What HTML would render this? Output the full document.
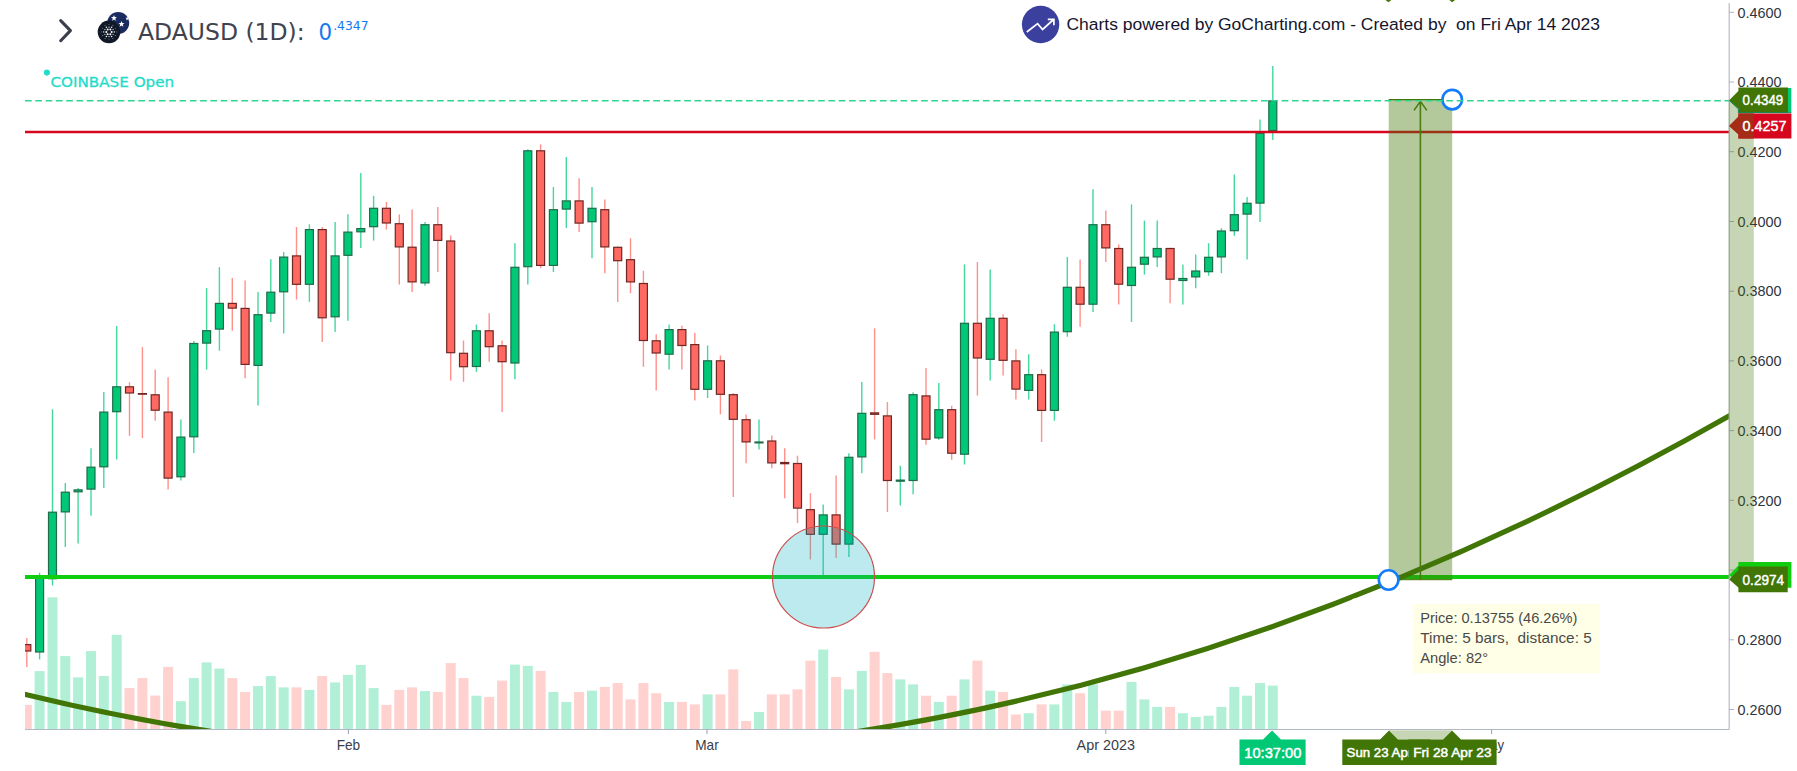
<!DOCTYPE html><html><head><meta charset="utf-8"><title>ADAUSD (1D) - GoCharting</title>
<style>html,body{margin:0;padding:0;background:#fff;overflow:hidden}svg{display:block}text{font-family:"Liberation Sans","DejaVu Sans",sans-serif}.v{font-family:"DejaVu Sans","Liberation Sans",sans-serif}</style></head><body>
<svg width="1797" height="771" viewBox="0 0 1797 771">
<rect width="1797" height="771" fill="#fff"/>
<defs><clipPath id="plot"><rect x="25" y="0" width="1704" height="729"/></clipPath></defs>
<g clip-path="url(#plot)">
<g>
<rect x="21.8" y="704.9" width="10" height="24.1" fill="#ffd1cf"/>
<rect x="34.6" y="671.1" width="10" height="57.9" fill="#b1efd6"/>
<rect x="47.5" y="597.3" width="10" height="131.7" fill="#b1efd6"/>
<rect x="60.3" y="656.1" width="10" height="72.9" fill="#b1efd6"/>
<rect x="73.1" y="677.4" width="10" height="51.6" fill="#b1efd6"/>
<rect x="86.0" y="651.1" width="10" height="77.9" fill="#b1efd6"/>
<rect x="98.8" y="676.1" width="10" height="52.9" fill="#b1efd6"/>
<rect x="111.7" y="634.8" width="10" height="94.2" fill="#b1efd6"/>
<rect x="124.5" y="688.1" width="10" height="40.9" fill="#ffd1cf"/>
<rect x="137.4" y="678.1" width="10" height="50.9" fill="#ffd1cf"/>
<rect x="150.2" y="695.6" width="10" height="33.4" fill="#ffd1cf"/>
<rect x="163.1" y="666.9" width="10" height="62.1" fill="#ffd1cf"/>
<rect x="175.9" y="701.2" width="10" height="27.8" fill="#b1efd6"/>
<rect x="188.8" y="678.1" width="10" height="50.9" fill="#b1efd6"/>
<rect x="201.6" y="662.4" width="10" height="66.6" fill="#b1efd6"/>
<rect x="214.4" y="668.6" width="10" height="60.4" fill="#b1efd6"/>
<rect x="227.3" y="678.1" width="10" height="50.9" fill="#ffd1cf"/>
<rect x="240.1" y="691.9" width="10" height="37.1" fill="#ffd1cf"/>
<rect x="253.0" y="686.1" width="10" height="42.9" fill="#b1efd6"/>
<rect x="265.8" y="676.1" width="10" height="52.9" fill="#b1efd6"/>
<rect x="278.7" y="687.4" width="10" height="41.6" fill="#b1efd6"/>
<rect x="291.5" y="687.4" width="10" height="41.6" fill="#ffd1cf"/>
<rect x="304.4" y="689.9" width="10" height="39.1" fill="#b1efd6"/>
<rect x="317.2" y="676.1" width="10" height="52.9" fill="#ffd1cf"/>
<rect x="330.1" y="682.4" width="10" height="46.6" fill="#b1efd6"/>
<rect x="342.9" y="674.9" width="10" height="54.1" fill="#b1efd6"/>
<rect x="355.8" y="664.9" width="10" height="64.1" fill="#b1efd6"/>
<rect x="368.6" y="688.1" width="10" height="40.9" fill="#b1efd6"/>
<rect x="381.4" y="704.9" width="10" height="24.1" fill="#ffd1cf"/>
<rect x="394.3" y="689.9" width="10" height="39.1" fill="#ffd1cf"/>
<rect x="407.1" y="687.4" width="10" height="41.6" fill="#ffd1cf"/>
<rect x="420.0" y="691.1" width="10" height="37.9" fill="#b1efd6"/>
<rect x="432.8" y="691.9" width="10" height="37.1" fill="#ffd1cf"/>
<rect x="445.7" y="663.1" width="10" height="65.9" fill="#ffd1cf"/>
<rect x="458.5" y="678.1" width="10" height="50.9" fill="#ffd1cf"/>
<rect x="471.4" y="695.7" width="10" height="33.3" fill="#b1efd6"/>
<rect x="484.2" y="696.9" width="10" height="32.1" fill="#ffd1cf"/>
<rect x="497.1" y="680.6" width="10" height="48.4" fill="#ffd1cf"/>
<rect x="509.9" y="664.6" width="10" height="64.4" fill="#b1efd6"/>
<rect x="522.8" y="665.9" width="10" height="63.1" fill="#b1efd6"/>
<rect x="535.6" y="670.9" width="10" height="58.1" fill="#ffd1cf"/>
<rect x="548.4" y="691.9" width="10" height="37.1" fill="#b1efd6"/>
<rect x="561.3" y="701.9" width="10" height="27.1" fill="#b1efd6"/>
<rect x="574.1" y="691.9" width="10" height="37.1" fill="#ffd1cf"/>
<rect x="587.0" y="690.7" width="10" height="38.3" fill="#b1efd6"/>
<rect x="599.8" y="686.9" width="10" height="42.1" fill="#ffd1cf"/>
<rect x="612.7" y="683.1" width="10" height="45.9" fill="#ffd1cf"/>
<rect x="625.5" y="699.4" width="10" height="29.6" fill="#ffd1cf"/>
<rect x="638.4" y="683.1" width="10" height="45.9" fill="#ffd1cf"/>
<rect x="651.2" y="693.2" width="10" height="35.8" fill="#ffd1cf"/>
<rect x="664.1" y="701.9" width="10" height="27.1" fill="#b1efd6"/>
<rect x="676.9" y="701.9" width="10" height="27.1" fill="#ffd1cf"/>
<rect x="689.8" y="704.4" width="10" height="24.6" fill="#ffd1cf"/>
<rect x="702.6" y="694.4" width="10" height="34.6" fill="#b1efd6"/>
<rect x="715.4" y="694.4" width="10" height="34.6" fill="#ffd1cf"/>
<rect x="728.3" y="669.4" width="10" height="59.6" fill="#ffd1cf"/>
<rect x="741.1" y="721.0" width="10" height="8.0" fill="#ffd1cf"/>
<rect x="754.0" y="711.9" width="10" height="17.1" fill="#b1efd6"/>
<rect x="766.8" y="694.4" width="10" height="34.6" fill="#ffd1cf"/>
<rect x="779.7" y="694.4" width="10" height="34.6" fill="#ffd1cf"/>
<rect x="792.5" y="689.4" width="10" height="39.6" fill="#ffd1cf"/>
<rect x="805.4" y="660.6" width="10" height="68.4" fill="#ffd1cf"/>
<rect x="818.2" y="649.6" width="10" height="79.4" fill="#b1efd6"/>
<rect x="831.1" y="676.9" width="10" height="52.1" fill="#ffd1cf"/>
<rect x="843.9" y="689.4" width="10" height="39.6" fill="#b1efd6"/>
<rect x="856.8" y="670.9" width="10" height="58.1" fill="#b1efd6"/>
<rect x="869.6" y="651.8" width="10" height="77.2" fill="#ffd1cf"/>
<rect x="882.4" y="673.1" width="10" height="55.9" fill="#ffd1cf"/>
<rect x="895.3" y="679.4" width="10" height="49.6" fill="#b1efd6"/>
<rect x="908.1" y="684.4" width="10" height="44.6" fill="#b1efd6"/>
<rect x="921.0" y="695.7" width="10" height="33.3" fill="#ffd1cf"/>
<rect x="933.8" y="701.9" width="10" height="27.1" fill="#b1efd6"/>
<rect x="946.7" y="695.7" width="10" height="33.3" fill="#ffd1cf"/>
<rect x="959.5" y="679.4" width="10" height="49.6" fill="#b1efd6"/>
<rect x="972.4" y="660.6" width="10" height="68.4" fill="#ffd1cf"/>
<rect x="985.2" y="690.7" width="10" height="38.3" fill="#b1efd6"/>
<rect x="998.1" y="691.9" width="10" height="37.1" fill="#ffd1cf"/>
<rect x="1010.9" y="714.5" width="10" height="14.5" fill="#ffd1cf"/>
<rect x="1023.7" y="713.2" width="10" height="15.8" fill="#b1efd6"/>
<rect x="1036.6" y="704.4" width="10" height="24.6" fill="#ffd1cf"/>
<rect x="1049.4" y="704.4" width="10" height="24.6" fill="#b1efd6"/>
<rect x="1062.3" y="684.4" width="10" height="44.6" fill="#b1efd6"/>
<rect x="1075.1" y="693.2" width="10" height="35.8" fill="#ffd1cf"/>
<rect x="1088.0" y="684.4" width="10" height="44.6" fill="#b1efd6"/>
<rect x="1100.8" y="710.7" width="10" height="18.3" fill="#ffd1cf"/>
<rect x="1113.7" y="710.7" width="10" height="18.3" fill="#ffd1cf"/>
<rect x="1126.5" y="681.9" width="10" height="47.1" fill="#b1efd6"/>
<rect x="1139.4" y="699.4" width="10" height="29.6" fill="#b1efd6"/>
<rect x="1152.2" y="706.9" width="10" height="22.1" fill="#b1efd6"/>
<rect x="1165.1" y="706.9" width="10" height="22.1" fill="#ffd1cf"/>
<rect x="1177.9" y="713.2" width="10" height="15.8" fill="#b1efd6"/>
<rect x="1190.7" y="717.0" width="10" height="12.0" fill="#b1efd6"/>
<rect x="1203.6" y="715.7" width="10" height="13.3" fill="#b1efd6"/>
<rect x="1216.4" y="706.9" width="10" height="22.1" fill="#b1efd6"/>
<rect x="1229.3" y="686.9" width="10" height="42.1" fill="#b1efd6"/>
<rect x="1242.1" y="695.7" width="10" height="33.3" fill="#b1efd6"/>
<rect x="1255.0" y="683.1" width="10" height="45.9" fill="#b1efd6"/>
<rect x="1267.8" y="685.6" width="10" height="43.4" fill="#b1efd6"/>
</g>
<g>
<line x1="26.8" x2="26.8" y1="638.0" y2="667.0" stroke="#ff908a" stroke-width="1.4"/>
<rect x="22.8" y="644.6" width="8" height="6.4" fill="#ff6961" stroke="#6e2723" stroke-width="1.2"/>
<line x1="39.6" x2="39.6" y1="572.7" y2="659.4" stroke="#45d89d" stroke-width="1.4"/>
<rect x="35.6" y="577.3" width="8" height="74.7" fill="#00c877" stroke="#1f6b4a" stroke-width="1.2"/>
<line x1="52.5" x2="52.5" y1="409.3" y2="585.5" stroke="#45d89d" stroke-width="1.4"/>
<rect x="48.5" y="512.2" width="8" height="66.5" fill="#00c877" stroke="#1f6b4a" stroke-width="1.2"/>
<line x1="65.3" x2="65.3" y1="483.1" y2="547.0" stroke="#45d89d" stroke-width="1.4"/>
<rect x="61.3" y="492.2" width="8" height="19.7" fill="#00c877" stroke="#1f6b4a" stroke-width="1.2"/>
<line x1="78.1" x2="78.1" y1="488.1" y2="543.4" stroke="#45d89d" stroke-width="1.4"/>
<rect x="74.1" y="489.9" width="8" height="1.9" fill="#00c877" stroke="#1f6b4a" stroke-width="1.2"/>
<line x1="91.0" x2="91.0" y1="448.3" y2="515.7" stroke="#45d89d" stroke-width="1.4"/>
<rect x="87.0" y="467.2" width="8" height="21.9" fill="#00c877" stroke="#1f6b4a" stroke-width="1.2"/>
<line x1="103.8" x2="103.8" y1="392.0" y2="488.1" stroke="#45d89d" stroke-width="1.4"/>
<rect x="99.8" y="412.1" width="8" height="54.7" fill="#00c877" stroke="#1f6b4a" stroke-width="1.2"/>
<line x1="116.7" x2="116.7" y1="326.0" y2="459.6" stroke="#45d89d" stroke-width="1.4"/>
<rect x="112.7" y="386.8" width="8" height="24.9" fill="#00c877" stroke="#1f6b4a" stroke-width="1.2"/>
<line x1="129.5" x2="129.5" y1="382.2" y2="435.8" stroke="#ff908a" stroke-width="1.4"/>
<rect x="125.5" y="386.8" width="8" height="6.2" fill="#ff6961" stroke="#6e2723" stroke-width="1.2"/>
<line x1="142.4" x2="142.4" y1="347.2" y2="438.1" stroke="#ff908a" stroke-width="1.4"/>
<rect x="138.4" y="393.6" width="8" height="0.6" fill="#ff6961" stroke="#6e2723" stroke-width="1.2"/>
<line x1="155.2" x2="155.2" y1="369.5" y2="420.8" stroke="#ff908a" stroke-width="1.4"/>
<rect x="151.2" y="394.8" width="8" height="15.4" fill="#ff6961" stroke="#6e2723" stroke-width="1.2"/>
<line x1="168.1" x2="168.1" y1="377.2" y2="489.4" stroke="#ff908a" stroke-width="1.4"/>
<rect x="164.1" y="412.1" width="8" height="66.0" fill="#ff6961" stroke="#6e2723" stroke-width="1.2"/>
<line x1="180.9" x2="180.9" y1="419.5" y2="480.6" stroke="#45d89d" stroke-width="1.4"/>
<rect x="176.9" y="437.1" width="8" height="39.7" fill="#00c877" stroke="#1f6b4a" stroke-width="1.2"/>
<line x1="193.8" x2="193.8" y1="341.0" y2="453.1" stroke="#45d89d" stroke-width="1.4"/>
<rect x="189.8" y="343.5" width="8" height="93.3" fill="#00c877" stroke="#1f6b4a" stroke-width="1.2"/>
<line x1="206.6" x2="206.6" y1="288.1" y2="369.7" stroke="#45d89d" stroke-width="1.4"/>
<rect x="202.6" y="330.7" width="8" height="12.4" fill="#00c877" stroke="#1f6b4a" stroke-width="1.2"/>
<line x1="219.4" x2="219.4" y1="267.1" y2="350.7" stroke="#45d89d" stroke-width="1.4"/>
<rect x="215.4" y="303.4" width="8" height="25.7" fill="#00c877" stroke="#1f6b4a" stroke-width="1.2"/>
<line x1="232.3" x2="232.3" y1="278.1" y2="330.7" stroke="#ff908a" stroke-width="1.4"/>
<rect x="228.3" y="303.4" width="8" height="4.7" fill="#ff6961" stroke="#6e2723" stroke-width="1.2"/>
<line x1="245.1" x2="245.1" y1="280.6" y2="378.2" stroke="#ff908a" stroke-width="1.4"/>
<rect x="241.1" y="308.4" width="8" height="56.0" fill="#ff6961" stroke="#6e2723" stroke-width="1.2"/>
<line x1="258.0" x2="258.0" y1="292.1" y2="405.5" stroke="#45d89d" stroke-width="1.4"/>
<rect x="254.0" y="314.7" width="8" height="50.7" fill="#00c877" stroke="#1f6b4a" stroke-width="1.2"/>
<line x1="270.8" x2="270.8" y1="259.3" y2="321.9" stroke="#45d89d" stroke-width="1.4"/>
<rect x="266.8" y="292.2" width="8" height="20.9" fill="#00c877" stroke="#1f6b4a" stroke-width="1.2"/>
<line x1="283.7" x2="283.7" y1="252.1" y2="333.4" stroke="#45d89d" stroke-width="1.4"/>
<rect x="279.7" y="257.1" width="8" height="34.7" fill="#00c877" stroke="#1f6b4a" stroke-width="1.2"/>
<line x1="296.5" x2="296.5" y1="227.0" y2="299.6" stroke="#ff908a" stroke-width="1.4"/>
<rect x="292.5" y="255.9" width="8" height="28.4" fill="#ff6961" stroke="#6e2723" stroke-width="1.2"/>
<line x1="309.4" x2="309.4" y1="224.3" y2="301.9" stroke="#45d89d" stroke-width="1.4"/>
<rect x="305.4" y="229.6" width="8" height="54.7" fill="#00c877" stroke="#1f6b4a" stroke-width="1.2"/>
<line x1="322.2" x2="322.2" y1="227.0" y2="341.9" stroke="#ff908a" stroke-width="1.4"/>
<rect x="318.2" y="229.6" width="8" height="88.2" fill="#ff6961" stroke="#6e2723" stroke-width="1.2"/>
<line x1="335.1" x2="335.1" y1="222.0" y2="331.9" stroke="#45d89d" stroke-width="1.4"/>
<rect x="331.1" y="255.9" width="8" height="60.9" fill="#00c877" stroke="#1f6b4a" stroke-width="1.2"/>
<line x1="347.9" x2="347.9" y1="214.3" y2="320.7" stroke="#45d89d" stroke-width="1.4"/>
<rect x="343.9" y="232.1" width="8" height="23.2" fill="#00c877" stroke="#1f6b4a" stroke-width="1.2"/>
<line x1="360.8" x2="360.8" y1="173.0" y2="248.0" stroke="#45d89d" stroke-width="1.4"/>
<rect x="356.8" y="228.6" width="8" height="3.2" fill="#00c877" stroke="#1f6b4a" stroke-width="1.2"/>
<line x1="373.6" x2="373.6" y1="195.8" y2="240.6" stroke="#45d89d" stroke-width="1.4"/>
<rect x="369.6" y="208.3" width="8" height="18.4" fill="#00c877" stroke="#1f6b4a" stroke-width="1.2"/>
<line x1="386.4" x2="386.4" y1="202.0" y2="229.6" stroke="#ff908a" stroke-width="1.4"/>
<rect x="382.4" y="208.3" width="8" height="14.7" fill="#ff6961" stroke="#6e2723" stroke-width="1.2"/>
<line x1="399.3" x2="399.3" y1="214.6" y2="284.5" stroke="#ff908a" stroke-width="1.4"/>
<rect x="395.3" y="223.7" width="8" height="23.2" fill="#ff6961" stroke="#6e2723" stroke-width="1.2"/>
<line x1="412.1" x2="412.1" y1="209.4" y2="292.0" stroke="#ff908a" stroke-width="1.4"/>
<rect x="408.1" y="247.2" width="8" height="34.7" fill="#ff6961" stroke="#6e2723" stroke-width="1.2"/>
<line x1="425.0" x2="425.0" y1="222.0" y2="285.7" stroke="#45d89d" stroke-width="1.4"/>
<rect x="421.0" y="224.7" width="8" height="58.2" fill="#00c877" stroke="#1f6b4a" stroke-width="1.2"/>
<line x1="437.8" x2="437.8" y1="207.0" y2="272.0" stroke="#ff908a" stroke-width="1.4"/>
<rect x="433.8" y="224.7" width="8" height="15.7" fill="#ff6961" stroke="#6e2723" stroke-width="1.2"/>
<line x1="450.7" x2="450.7" y1="235.6" y2="380.6" stroke="#ff908a" stroke-width="1.4"/>
<rect x="446.7" y="241.0" width="8" height="111.7" fill="#ff6961" stroke="#6e2723" stroke-width="1.2"/>
<line x1="463.5" x2="463.5" y1="340.5" y2="381.8" stroke="#ff908a" stroke-width="1.4"/>
<rect x="459.5" y="353.3" width="8" height="13.4" fill="#ff6961" stroke="#6e2723" stroke-width="1.2"/>
<line x1="476.4" x2="476.4" y1="324.5" y2="371.8" stroke="#45d89d" stroke-width="1.4"/>
<rect x="472.4" y="330.8" width="8" height="35.7" fill="#00c877" stroke="#1f6b4a" stroke-width="1.2"/>
<line x1="489.2" x2="489.2" y1="313.3" y2="361.8" stroke="#ff908a" stroke-width="1.4"/>
<rect x="485.2" y="330.8" width="8" height="15.9" fill="#ff6961" stroke="#6e2723" stroke-width="1.2"/>
<line x1="502.1" x2="502.1" y1="340.5" y2="411.9" stroke="#ff908a" stroke-width="1.4"/>
<rect x="498.1" y="345.8" width="8" height="15.9" fill="#ff6961" stroke="#6e2723" stroke-width="1.2"/>
<line x1="514.9" x2="514.9" y1="243.2" y2="379.3" stroke="#45d89d" stroke-width="1.4"/>
<rect x="510.9" y="267.3" width="8" height="95.7" fill="#00c877" stroke="#1f6b4a" stroke-width="1.2"/>
<line x1="527.8" x2="527.8" y1="149.3" y2="284.5" stroke="#45d89d" stroke-width="1.4"/>
<rect x="523.8" y="150.8" width="8" height="115.9" fill="#00c877" stroke="#1f6b4a" stroke-width="1.2"/>
<line x1="540.6" x2="540.6" y1="144.3" y2="268.2" stroke="#ff908a" stroke-width="1.4"/>
<rect x="536.6" y="150.8" width="8" height="114.6" fill="#ff6961" stroke="#6e2723" stroke-width="1.2"/>
<line x1="553.4" x2="553.4" y1="187.0" y2="272.0" stroke="#45d89d" stroke-width="1.4"/>
<rect x="549.4" y="209.7" width="8" height="55.7" fill="#00c877" stroke="#1f6b4a" stroke-width="1.2"/>
<line x1="566.3" x2="566.3" y1="157.0" y2="228.0" stroke="#45d89d" stroke-width="1.4"/>
<rect x="562.3" y="200.9" width="8" height="8.2" fill="#00c877" stroke="#1f6b4a" stroke-width="1.2"/>
<line x1="579.1" x2="579.1" y1="178.3" y2="231.9" stroke="#ff908a" stroke-width="1.4"/>
<rect x="575.1" y="200.9" width="8" height="22.2" fill="#ff6961" stroke="#6e2723" stroke-width="1.2"/>
<line x1="592.0" x2="592.0" y1="187.0" y2="258.2" stroke="#45d89d" stroke-width="1.4"/>
<rect x="588.0" y="208.3" width="8" height="13.4" fill="#00c877" stroke="#1f6b4a" stroke-width="1.2"/>
<line x1="604.8" x2="604.8" y1="199.6" y2="273.2" stroke="#ff908a" stroke-width="1.4"/>
<rect x="600.8" y="209.7" width="8" height="37.2" fill="#ff6961" stroke="#6e2723" stroke-width="1.2"/>
<line x1="617.7" x2="617.7" y1="246.4" y2="302.0" stroke="#ff908a" stroke-width="1.4"/>
<rect x="613.7" y="247.3" width="8" height="13.4" fill="#ff6961" stroke="#6e2723" stroke-width="1.2"/>
<line x1="630.5" x2="630.5" y1="238.2" y2="293.2" stroke="#ff908a" stroke-width="1.4"/>
<rect x="626.5" y="259.7" width="8" height="22.2" fill="#ff6961" stroke="#6e2723" stroke-width="1.2"/>
<line x1="643.4" x2="643.4" y1="270.7" y2="366.8" stroke="#ff908a" stroke-width="1.4"/>
<rect x="639.4" y="283.5" width="8" height="57.0" fill="#ff6961" stroke="#6e2723" stroke-width="1.2"/>
<line x1="656.2" x2="656.2" y1="334.3" y2="390.6" stroke="#ff908a" stroke-width="1.4"/>
<rect x="652.2" y="340.8" width="8" height="12.2" fill="#ff6961" stroke="#6e2723" stroke-width="1.2"/>
<line x1="669.1" x2="669.1" y1="324.5" y2="369.6" stroke="#45d89d" stroke-width="1.4"/>
<rect x="665.1" y="329.6" width="8" height="24.6" fill="#00c877" stroke="#1f6b4a" stroke-width="1.2"/>
<line x1="681.9" x2="681.9" y1="325.8" y2="369.6" stroke="#ff908a" stroke-width="1.4"/>
<rect x="677.9" y="329.6" width="8" height="15.9" fill="#ff6961" stroke="#6e2723" stroke-width="1.2"/>
<line x1="694.8" x2="694.8" y1="333.0" y2="400.6" stroke="#ff908a" stroke-width="1.4"/>
<rect x="690.8" y="344.6" width="8" height="44.7" fill="#ff6961" stroke="#6e2723" stroke-width="1.2"/>
<line x1="707.6" x2="707.6" y1="345.5" y2="398.0" stroke="#45d89d" stroke-width="1.4"/>
<rect x="703.6" y="360.8" width="8" height="28.5" fill="#00c877" stroke="#1f6b4a" stroke-width="1.2"/>
<line x1="720.4" x2="720.4" y1="355.5" y2="414.4" stroke="#ff908a" stroke-width="1.4"/>
<rect x="716.4" y="360.8" width="8" height="33.5" fill="#ff6961" stroke="#6e2723" stroke-width="1.2"/>
<line x1="733.3" x2="733.3" y1="393.0" y2="497.0" stroke="#ff908a" stroke-width="1.4"/>
<rect x="729.3" y="394.7" width="8" height="24.6" fill="#ff6961" stroke="#6e2723" stroke-width="1.2"/>
<line x1="746.1" x2="746.1" y1="414.4" y2="463.2" stroke="#ff908a" stroke-width="1.4"/>
<rect x="742.1" y="419.7" width="8" height="22.2" fill="#ff6961" stroke="#6e2723" stroke-width="1.2"/>
<line x1="759.0" x2="759.0" y1="419.4" y2="449.4" stroke="#45d89d" stroke-width="1.4"/>
<rect x="755.0" y="442.0" width="8" height="0.9" fill="#00c877" stroke="#1f6b4a" stroke-width="1.2"/>
<line x1="771.8" x2="771.8" y1="435.6" y2="468.2" stroke="#ff908a" stroke-width="1.4"/>
<rect x="767.8" y="441.0" width="8" height="21.9" fill="#ff6961" stroke="#6e2723" stroke-width="1.2"/>
<line x1="784.7" x2="784.7" y1="448.2" y2="498.2" stroke="#ff908a" stroke-width="1.4"/>
<rect x="780.7" y="462.5" width="8" height="1.2" fill="#ff6961" stroke="#6e2723" stroke-width="1.2"/>
<line x1="797.5" x2="797.5" y1="455.7" y2="523.0" stroke="#ff908a" stroke-width="1.4"/>
<rect x="793.5" y="463.5" width="8" height="44.6" fill="#ff6961" stroke="#6e2723" stroke-width="1.2"/>
<line x1="810.4" x2="810.4" y1="493.2" y2="559.4" stroke="#ff908a" stroke-width="1.4"/>
<rect x="806.4" y="509.7" width="8" height="24.6" fill="#ff6961" stroke="#6e2723" stroke-width="1.2"/>
<line x1="823.2" x2="823.2" y1="504.4" y2="576.4" stroke="#45d89d" stroke-width="1.4"/>
<rect x="819.2" y="514.9" width="8" height="19.4" fill="#00c877" stroke="#1f6b4a" stroke-width="1.2"/>
<line x1="836.1" x2="836.1" y1="475.6" y2="558.0" stroke="#ff908a" stroke-width="1.4"/>
<rect x="832.1" y="514.9" width="8" height="29.2" fill="#ff6961" stroke="#6e2723" stroke-width="1.2"/>
<line x1="848.9" x2="848.9" y1="453.2" y2="556.9" stroke="#45d89d" stroke-width="1.4"/>
<rect x="844.9" y="457.3" width="8" height="86.8" fill="#00c877" stroke="#1f6b4a" stroke-width="1.2"/>
<line x1="861.8" x2="861.8" y1="382.0" y2="473.2" stroke="#45d89d" stroke-width="1.4"/>
<rect x="857.8" y="413.3" width="8" height="43.6" fill="#00c877" stroke="#1f6b4a" stroke-width="1.2"/>
<line x1="874.6" x2="874.6" y1="328.3" y2="439.4" stroke="#ff908a" stroke-width="1.4"/>
<rect x="870.6" y="412.9" width="8" height="1.4" fill="#ff6961" stroke="#6e2723" stroke-width="1.2"/>
<line x1="887.4" x2="887.4" y1="402.0" y2="512.0" stroke="#ff908a" stroke-width="1.4"/>
<rect x="883.4" y="415.9" width="8" height="64.6" fill="#ff6961" stroke="#6e2723" stroke-width="1.2"/>
<line x1="900.3" x2="900.3" y1="465.8" y2="505.6" stroke="#45d89d" stroke-width="1.4"/>
<rect x="896.3" y="480.1" width="8" height="1.1" fill="#00c877" stroke="#1f6b4a" stroke-width="1.2"/>
<line x1="913.1" x2="913.1" y1="392.2" y2="494.3" stroke="#45d89d" stroke-width="1.4"/>
<rect x="909.1" y="394.7" width="8" height="85.8" fill="#00c877" stroke="#1f6b4a" stroke-width="1.2"/>
<line x1="926.0" x2="926.0" y1="368.0" y2="444.7" stroke="#ff908a" stroke-width="1.4"/>
<rect x="922.0" y="395.9" width="8" height="43.3" fill="#ff6961" stroke="#6e2723" stroke-width="1.2"/>
<line x1="938.8" x2="938.8" y1="383.0" y2="439.7" stroke="#45d89d" stroke-width="1.4"/>
<rect x="934.8" y="409.7" width="8" height="28.2" fill="#00c877" stroke="#1f6b4a" stroke-width="1.2"/>
<line x1="951.7" x2="951.7" y1="405.7" y2="459.7" stroke="#ff908a" stroke-width="1.4"/>
<rect x="947.7" y="409.7" width="8" height="43.5" fill="#ff6961" stroke="#6e2723" stroke-width="1.2"/>
<line x1="964.5" x2="964.5" y1="264.4" y2="464.5" stroke="#45d89d" stroke-width="1.4"/>
<rect x="960.5" y="323.3" width="8" height="130.9" fill="#00c877" stroke="#1f6b4a" stroke-width="1.2"/>
<line x1="977.4" x2="977.4" y1="262.0" y2="395.6" stroke="#ff908a" stroke-width="1.4"/>
<rect x="973.4" y="323.3" width="8" height="34.7" fill="#ff6961" stroke="#6e2723" stroke-width="1.2"/>
<line x1="990.2" x2="990.2" y1="269.4" y2="380.6" stroke="#45d89d" stroke-width="1.4"/>
<rect x="986.2" y="318.3" width="8" height="41.0" fill="#00c877" stroke="#1f6b4a" stroke-width="1.2"/>
<line x1="1003.1" x2="1003.1" y1="314.3" y2="375.6" stroke="#ff908a" stroke-width="1.4"/>
<rect x="999.1" y="318.3" width="8" height="42.0" fill="#ff6961" stroke="#6e2723" stroke-width="1.2"/>
<line x1="1015.9" x2="1015.9" y1="349.3" y2="399.4" stroke="#ff908a" stroke-width="1.4"/>
<rect x="1011.9" y="360.9" width="8" height="28.2" fill="#ff6961" stroke="#6e2723" stroke-width="1.2"/>
<line x1="1028.7" x2="1028.7" y1="354.3" y2="399.4" stroke="#45d89d" stroke-width="1.4"/>
<rect x="1024.7" y="374.7" width="8" height="15.7" fill="#00c877" stroke="#1f6b4a" stroke-width="1.2"/>
<line x1="1041.6" x2="1041.6" y1="369.4" y2="442.0" stroke="#ff908a" stroke-width="1.4"/>
<rect x="1037.6" y="374.7" width="8" height="35.7" fill="#ff6961" stroke="#6e2723" stroke-width="1.2"/>
<line x1="1054.4" x2="1054.4" y1="324.3" y2="420.7" stroke="#45d89d" stroke-width="1.4"/>
<rect x="1050.4" y="332.1" width="8" height="78.3" fill="#00c877" stroke="#1f6b4a" stroke-width="1.2"/>
<line x1="1067.3" x2="1067.3" y1="257.0" y2="336.8" stroke="#45d89d" stroke-width="1.4"/>
<rect x="1063.3" y="287.3" width="8" height="44.4" fill="#00c877" stroke="#1f6b4a" stroke-width="1.2"/>
<line x1="1080.1" x2="1080.1" y1="259.4" y2="326.8" stroke="#ff908a" stroke-width="1.4"/>
<rect x="1076.1" y="287.3" width="8" height="16.9" fill="#ff6961" stroke="#6e2723" stroke-width="1.2"/>
<line x1="1093.0" x2="1093.0" y1="189.3" y2="312.0" stroke="#45d89d" stroke-width="1.4"/>
<rect x="1089.0" y="224.7" width="8" height="79.5" fill="#00c877" stroke="#1f6b4a" stroke-width="1.2"/>
<line x1="1105.8" x2="1105.8" y1="210.6" y2="262.0" stroke="#ff908a" stroke-width="1.4"/>
<rect x="1101.8" y="224.7" width="8" height="23.2" fill="#ff6961" stroke="#6e2723" stroke-width="1.2"/>
<line x1="1118.7" x2="1118.7" y1="244.4" y2="304.5" stroke="#ff908a" stroke-width="1.4"/>
<rect x="1114.7" y="248.5" width="8" height="35.7" fill="#ff6961" stroke="#6e2723" stroke-width="1.2"/>
<line x1="1131.5" x2="1131.5" y1="204.4" y2="322.0" stroke="#45d89d" stroke-width="1.4"/>
<rect x="1127.5" y="267.3" width="8" height="18.2" fill="#00c877" stroke="#1f6b4a" stroke-width="1.2"/>
<line x1="1144.4" x2="1144.4" y1="220.6" y2="274.5" stroke="#45d89d" stroke-width="1.4"/>
<rect x="1140.4" y="257.3" width="8" height="6.9" fill="#00c877" stroke="#1f6b4a" stroke-width="1.2"/>
<line x1="1157.2" x2="1157.2" y1="220.6" y2="267.0" stroke="#45d89d" stroke-width="1.4"/>
<rect x="1153.2" y="248.5" width="8" height="8.4" fill="#00c877" stroke="#1f6b4a" stroke-width="1.2"/>
<line x1="1170.1" x2="1170.1" y1="247.7" y2="303.3" stroke="#ff908a" stroke-width="1.4"/>
<rect x="1166.1" y="248.5" width="8" height="30.7" fill="#ff6961" stroke="#6e2723" stroke-width="1.2"/>
<line x1="1182.9" x2="1182.9" y1="264.5" y2="304.5" stroke="#45d89d" stroke-width="1.4"/>
<rect x="1178.9" y="278.5" width="8" height="2.0" fill="#00c877" stroke="#1f6b4a" stroke-width="1.2"/>
<line x1="1195.7" x2="1195.7" y1="254.5" y2="288.3" stroke="#45d89d" stroke-width="1.4"/>
<rect x="1191.7" y="271.0" width="8" height="5.9" fill="#00c877" stroke="#1f6b4a" stroke-width="1.2"/>
<line x1="1208.6" x2="1208.6" y1="243.2" y2="275.7" stroke="#45d89d" stroke-width="1.4"/>
<rect x="1204.6" y="257.3" width="8" height="14.4" fill="#00c877" stroke="#1f6b4a" stroke-width="1.2"/>
<line x1="1221.4" x2="1221.4" y1="228.2" y2="273.2" stroke="#45d89d" stroke-width="1.4"/>
<rect x="1217.4" y="231.0" width="8" height="25.9" fill="#00c877" stroke="#1f6b4a" stroke-width="1.2"/>
<line x1="1234.3" x2="1234.3" y1="174.6" y2="235.7" stroke="#45d89d" stroke-width="1.4"/>
<rect x="1230.3" y="214.7" width="8" height="16.0" fill="#00c877" stroke="#1f6b4a" stroke-width="1.2"/>
<line x1="1247.1" x2="1247.1" y1="197.0" y2="259.5" stroke="#45d89d" stroke-width="1.4"/>
<rect x="1243.1" y="203.3" width="8" height="10.8" fill="#00c877" stroke="#1f6b4a" stroke-width="1.2"/>
<line x1="1260.0" x2="1260.0" y1="119.5" y2="222.0" stroke="#45d89d" stroke-width="1.4"/>
<rect x="1256.0" y="133.3" width="8" height="69.8" fill="#00c877" stroke="#1f6b4a" stroke-width="1.2"/>
<line x1="1272.8" x2="1272.8" y1="66.0" y2="139.9" stroke="#45d89d" stroke-width="1.4"/>
<rect x="1268.8" y="100.9" width="8" height="29.6" fill="#00c877" stroke="#1f6b4a" stroke-width="1.2"/>
</g>
<line x1="25" x2="1729" y1="132" y2="132" stroke="#d6061e" stroke-width="2.4"/>
<line x1="25" x2="1729" y1="577" y2="577" stroke="#10cd10" stroke-width="4"/>
<path d="M20 693.17 Q877.50 904.03 1735 412.46" fill="none" stroke="#417505" stroke-width="5.2"/>
<circle cx="823.5" cy="577" r="51" fill="#00acc1" fill-opacity="0.26" stroke="#c8504e" stroke-width="1.2"/>
<rect x="1388.7" y="99.5" width="63.5" height="480.5" fill="#417505" fill-opacity="0.40"/>
<line x1="1388.7" x2="1452.2" y1="99.6" y2="99.6" stroke="#417505" stroke-width="1.4"/>
<line x1="1388.7" x2="1452.2" y1="579.6" y2="579.6" stroke="#417505" stroke-width="1.4" stroke-opacity="0.8"/>
<path d="M1420.4 580 V101.5 M1414 110.4 L1420.4 101.3 L1426.8 110.4" fill="none" stroke="#4a7c10" stroke-width="1.6"/>
<circle cx="1452.2" cy="99.6" r="9.75" fill="#fff" stroke="#137cfb" stroke-width="2.6"/>
<circle cx="1388.6" cy="580" r="9.75" fill="#fff" stroke="#137cfb" stroke-width="2.6"/>
<line x1="25" x2="1729" y1="100.8" y2="100.8" stroke="#2fd590" stroke-width="1.6" stroke-dasharray="6.7 3.6"/>
<rect x="1412.6" y="604" width="187.4" height="69.5" fill="#fffee6"/>
<g font-size="14.3" fill="#4a4a4a">
<text x="1420.2" y="623" textLength="157.2" lengthAdjust="spacingAndGlyphs">Price: 0.13755 (46.26%)</text>
<text x="1420.2" y="643" textLength="171.5" lengthAdjust="spacingAndGlyphs" style="white-space:pre">Time: 5 bars,  distance: 5</text>
<text x="1420.2" y="663.2" textLength="68" lengthAdjust="spacingAndGlyphs">Angle: 82°</text>
</g>
</g>
<ellipse cx="1353.8" cy="599.7" rx="2.4" ry="1.1" transform="rotate(-22 1353.8 599.7)" fill="#fff"/>
<path d="M1385.5 0 L1388.4 2.2 L1391.3 0Z M1449.3 0 L1452.2 2.2 L1455.1 0Z" fill="#417505"/>
<path d="M25 729.5 H1729.2 M1729.2 3 V729.5" fill="none" stroke="#b3b8c6" stroke-width="1.15"/>
<g font-size="15" fill="#2f3340">
<line x1="1729" x2="1734" y1="12.3" y2="12.3" stroke="#a4aaba" stroke-width="0.9"/>
<text x="1737.5" y="17.5" textLength="44" lengthAdjust="spacingAndGlyphs">0.4600</text>
<line x1="1729" x2="1734" y1="82.0" y2="82.0" stroke="#a4aaba" stroke-width="0.9"/>
<text x="1737.5" y="87.2" textLength="44" lengthAdjust="spacingAndGlyphs">0.4400</text>
<line x1="1729" x2="1734" y1="151.7" y2="151.7" stroke="#a4aaba" stroke-width="0.9"/>
<text x="1737.5" y="156.9" textLength="44" lengthAdjust="spacingAndGlyphs">0.4200</text>
<line x1="1729" x2="1734" y1="221.5" y2="221.5" stroke="#a4aaba" stroke-width="0.9"/>
<text x="1737.5" y="226.7" textLength="44" lengthAdjust="spacingAndGlyphs">0.4000</text>
<line x1="1729" x2="1734" y1="291.2" y2="291.2" stroke="#a4aaba" stroke-width="0.9"/>
<text x="1737.5" y="296.4" textLength="44" lengthAdjust="spacingAndGlyphs">0.3800</text>
<line x1="1729" x2="1734" y1="360.9" y2="360.9" stroke="#a4aaba" stroke-width="0.9"/>
<text x="1737.5" y="366.1" textLength="44" lengthAdjust="spacingAndGlyphs">0.3600</text>
<line x1="1729" x2="1734" y1="430.6" y2="430.6" stroke="#a4aaba" stroke-width="0.9"/>
<text x="1737.5" y="435.8" textLength="44" lengthAdjust="spacingAndGlyphs">0.3400</text>
<line x1="1729" x2="1734" y1="500.3" y2="500.3" stroke="#a4aaba" stroke-width="0.9"/>
<text x="1737.5" y="505.5" textLength="44" lengthAdjust="spacingAndGlyphs">0.3200</text>
<line x1="1729" x2="1734" y1="570.1" y2="570.1" stroke="#a4aaba" stroke-width="0.9"/>
<text x="1737.5" y="575.3" textLength="44" lengthAdjust="spacingAndGlyphs">0.3000</text>
<line x1="1729" x2="1734" y1="639.8" y2="639.8" stroke="#a4aaba" stroke-width="0.9"/>
<text x="1737.5" y="645.0" textLength="44" lengthAdjust="spacingAndGlyphs">0.2800</text>
<line x1="1729" x2="1734" y1="709.5" y2="709.5" stroke="#a4aaba" stroke-width="0.9"/>
<text x="1737.5" y="714.7" textLength="44" lengthAdjust="spacingAndGlyphs">0.2600</text>
</g>
<g font-size="15" fill="#3a3e4a" text-anchor="middle">
<line x1="348.4" x2="348.4" y1="729" y2="734" stroke="#9aa0b0" stroke-width="1"/>
<text x="348.4" y="749.5" textLength="23.5" lengthAdjust="spacingAndGlyphs">Feb</text>
<line x1="707" x2="707" y1="729" y2="734" stroke="#9aa0b0" stroke-width="1"/>
<text x="707" y="749.5" textLength="23.5" lengthAdjust="spacingAndGlyphs">Mar</text>
<line x1="1105.8" x2="1105.8" y1="729" y2="734" stroke="#9aa0b0" stroke-width="1"/>
<text x="1105.8" y="749.5" textLength="58.4" lengthAdjust="spacingAndGlyphs">Apr 2023</text>
<line x1="1491.6" x2="1491.6" y1="729" y2="734" stroke="#9aa0b0" stroke-width="1"/>
<text x="1491.6" y="749.5" textLength="25" lengthAdjust="spacingAndGlyphs">May</text>
</g>
<rect x="1728.6" y="100" width="25.2" height="478" fill="#417505" fill-opacity="0.30"/>
<path d="M1389 730.2 L1452 730.2 L1443 739.6 L1398 739.6Z" fill="#417505" fill-opacity="0.30"/>
<rect x="1786" y="88" width="5.3" height="24.6" fill="#00c877"/>
<path d="M1729.2 100.2 L1738.4 90.9 V87.4 H1788 V113.0 H1738.4 V108.4Z" fill="#417505"/>
<path d="M1729.4 100.6 L1738.4 109 V112.7 H1791.3" fill="none" stroke="#118a63" stroke-width="1"/>
<path d="M1729.2 126 L1738.4 116.7 V113.6 H1791.4 V138.4 H1738.4 V134.2Z" fill="#d6061e"/>
<path d="M1729.2 126 L1738.4 116.7 V113.6 H1753.8 V138.4 H1738.4 V134.2Z" fill="#a52c16"/>
<path d="M1729.2 574.9 L1738.4 565.6 V562.1 H1791.4 V587.6999999999999 H1738.4 V583.1Z" fill="#10cd10"/>
<path d="M1729.2 579.4 L1738.4 570.1 V566.6 H1787.7 V592.1999999999999 H1738.4 V587.6Z" fill="#417505"/>
<g font-size="14.6" fill="#fff" stroke="#fff" stroke-width="0.45">
<text x="1742.6" y="105.2" textLength="40.6" lengthAdjust="spacingAndGlyphs">0.4349</text>
<text x="1742.6" y="130.9" textLength="43.8" lengthAdjust="spacingAndGlyphs">0.4257</text>
<text x="1742.6" y="585" textLength="41.4" lengthAdjust="spacingAndGlyphs">0.2974</text>
</g>
<path d="M1239.5 739.5 H1263 L1272.1 730.4 L1281 739.5 H1305.6 V765.1 H1239.5Z" fill="#00c875"/>
<path d="M1342.3 739.5 H1380 L1389 730.4 L1398 739.5 H1430.5 V765.1 H1342.3Z" fill="#417505"/>
<path d="M1408.4 739.5 H1443 L1452 730.4 L1461 739.5 H1496.6 V765.1 H1408.4Z" fill="#417505"/>
<g font-size="13.2" fill="#fff" stroke="#fff" stroke-width="0.5">
<text x="1244.3" y="758" font-size="15.2" textLength="57" lengthAdjust="spacingAndGlyphs">10:37:00</text>
<clipPath id="sun"><rect x="1342" y="739" width="66.4" height="27"/></clipPath>
<text x="1346.6" y="756.9" textLength="84" lengthAdjust="spacingAndGlyphs" clip-path="url(#sun)">Sun 23 Apr 23</text>
<text x="1413.2" y="756.9" textLength="78.3" lengthAdjust="spacingAndGlyphs">Fri 28 Apr 23</text>
</g>
<path d="M60.7 20.6 L70.4 30.6 L60.7 40.7" fill="none" stroke="#3b3f4c" stroke-width="3.1" stroke-linecap="round" stroke-linejoin="round"/>
<circle cx="118.2" cy="23" r="11" fill="#1a2b5f"/>
<clipPath id="nv"><circle cx="118.2" cy="23" r="11"/></clipPath><g clip-path="url(#nv)">
<polygon points="114.00,15.00 114.79,17.11 117.04,17.21 115.28,18.62 115.88,20.79 114.00,19.54 112.12,20.79 112.72,18.62 110.96,17.21 113.21,17.11" fill="#fff"/>
<polygon points="121.50,21.00 122.29,23.11 124.54,23.21 122.78,24.62 123.38,26.79 121.50,25.54 119.62,26.79 120.22,24.62 118.46,23.21 120.71,23.11" fill="#fff"/>
<polygon points="127.60,16.20 128.19,17.78 129.88,17.86 128.56,18.91 129.01,20.54 127.60,19.61 126.19,20.54 126.64,18.91 125.32,17.86 127.01,17.78" fill="#fff"/>
</g>
<circle cx="109" cy="31.9" r="11.3" fill="#111827"/>
<circle cx="111.70" cy="31.90" r="1.0" fill="#fff"/>
<circle cx="110.35" cy="34.24" r="1.0" fill="#fff"/>
<circle cx="107.65" cy="34.24" r="1.0" fill="#fff"/>
<circle cx="106.30" cy="31.90" r="1.0" fill="#fff"/>
<circle cx="107.65" cy="29.56" r="1.0" fill="#fff"/>
<circle cx="110.35" cy="29.56" r="1.0" fill="#fff"/>
<circle cx="114.30" cy="31.90" r="0.7" fill="#fff"/>
<circle cx="111.65" cy="36.49" r="0.7" fill="#fff"/>
<circle cx="106.35" cy="36.49" r="0.7" fill="#fff"/>
<circle cx="103.70" cy="31.90" r="0.7" fill="#fff"/>
<circle cx="106.35" cy="27.31" r="0.7" fill="#fff"/>
<circle cx="111.65" cy="27.31" r="0.7" fill="#fff"/>
<circle cx="113.07" cy="34.25" r="0.6" fill="#fff"/>
<circle cx="109.00" cy="36.60" r="0.6" fill="#fff"/>
<circle cx="104.93" cy="34.25" r="0.6" fill="#fff"/>
<circle cx="104.93" cy="29.55" r="0.6" fill="#fff"/>
<circle cx="109.00" cy="27.20" r="0.6" fill="#fff"/>
<circle cx="113.07" cy="29.55" r="0.6" fill="#fff"/>
<circle cx="116.80" cy="31.90" r="0.45" fill="#fff"/>
<circle cx="112.90" cy="38.65" r="0.45" fill="#fff"/>
<circle cx="105.10" cy="38.65" r="0.45" fill="#fff"/>
<circle cx="101.20" cy="31.90" r="0.45" fill="#fff"/>
<circle cx="105.10" cy="25.15" r="0.45" fill="#fff"/>
<circle cx="112.90" cy="25.15" r="0.45" fill="#fff"/>
<circle cx="115.24" cy="35.50" r="0.4" fill="#fff"/>
<circle cx="109.00" cy="39.10" r="0.4" fill="#fff"/>
<circle cx="102.76" cy="35.50" r="0.4" fill="#fff"/>
<circle cx="102.76" cy="28.30" r="0.4" fill="#fff"/>
<circle cx="109.00" cy="24.70" r="0.4" fill="#fff"/>
<circle cx="115.24" cy="28.30" r="0.4" fill="#fff"/>
<text class="v" x="138" y="40" font-size="23.2" fill="#3f4350" textLength="166.7" lengthAdjust="spacingAndGlyphs">ADAUSD (1D):</text>
<text class="v" x="318.6" y="40" font-size="23.2" fill="#1478f0" textLength="13.6" lengthAdjust="spacingAndGlyphs">0</text>
<text class="v" x="333.2" y="30" font-size="12.4" fill="#1478f0" textLength="35.3" lengthAdjust="spacingAndGlyphs">.4347</text>
<circle cx="46.9" cy="72.6" r="3.05" fill="#22dccb"/>
<text class="v" x="50.4" y="86.8" font-size="14.6" fill="#22dccb" stroke="#22dccb" stroke-width="0.3" textLength="123.8" lengthAdjust="spacingAndGlyphs">COINBASE Open</text>
<circle cx="1040.6" cy="24.5" r="18.7" fill="#3b409f"/>
<path d="M1026.8 32 L1037.6 23.7 L1042.6 29.5 L1053 20" fill="none" stroke="#fff" stroke-width="1.7" stroke-linejoin="miter"/>
<path d="M1047.8 19.3 L1053.9 19.3 L1053.9 25.2" fill="none" stroke="#fff" stroke-width="1.7"/>
<text x="1066.4" y="29.7" font-size="17.2" fill="#15152e" textLength="533.6" lengthAdjust="spacingAndGlyphs" style="white-space:pre">Charts powered by GoCharting.com - Created by  on Fri Apr 14 2023</text>
</svg></body></html>
